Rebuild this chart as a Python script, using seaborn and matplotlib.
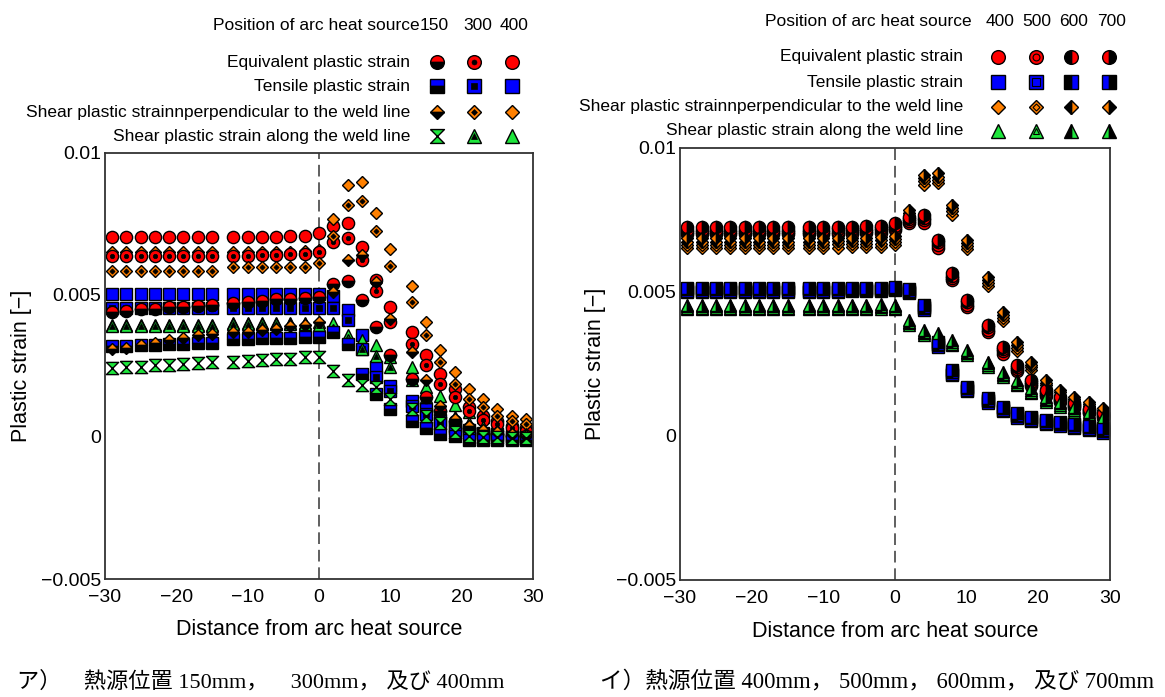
import numpy as np
import pandas as pd
import matplotlib
matplotlib.use("Agg")
import matplotlib.pyplot as plt
from matplotlib.lines import Line2D
from matplotlib.ticker import MultipleLocator
import seaborn as sns

# ---------------------------
# data (plastic strain, unit 1e-3)
# ---------------------------
x_dist = [-29, -27, -25, -23, -21, -19, -17, -15, -12, -10, -8, -6, -4, -2, 0,
          2, 4, 6, 8, 10, 13, 15, 17, 19, 21, 23, 25, 27, 29]

# left panel : heat source at 150 / 300 / 400 mm
eq_150 = [4.41, 4.44, 4.50, 4.52, 4.56, 4.58, 4.60, 4.65, 4.71, 4.75, 4.79, 4.85, 4.87, 4.89, 4.92,
          5.38, 5.48, 4.82, 3.88, 2.87, 2.05, 1.40, 0.90, 0.55, 0.30, 0.15, 0.10, 0.05, 0.03]
eq_300 = [6.38, 6.38, 6.38, 6.38, 6.38, 6.38, 6.38, 6.38, 6.38, 6.39, 6.40, 6.41, 6.43, 6.45, 6.51,
          6.86, 6.99, 6.24, 5.14, 4.05, 3.29, 2.52, 1.87, 1.40, 0.90, 0.60, 0.45, 0.30, 0.20]
eq_400 = [7.03, 7.03, 7.03, 7.03, 7.03, 7.03, 7.03, 7.03, 7.03, 7.03, 7.04, 7.05, 7.06, 7.08, 7.19,
          7.43, 7.53, 6.69, 5.53, 4.59, 3.70, 2.87, 2.22, 1.69, 1.04, 0.75, 0.55, 0.40, 0.30]
ten_150 = [3.19, 3.21, 3.23, 3.25, 3.27, 3.29, 3.30, 3.32, 3.44, 3.46, 3.47, 3.48, 3.50, 3.51, 3.52,
           3.70, 3.29, 2.22, 1.51, 0.98, 0.57, 0.33, 0.10, 0.04, -0.10, -0.12, -0.12, -0.10, -0.10]
ten_300 = [4.53, 4.53, 4.53, 4.53, 4.53, 4.53, 4.53, 4.53, 4.53, 4.53, 4.53, 4.53, 4.54, 4.54, 4.55,
           4.55, 4.11, 3.11, 2.12, 1.63, 1.10, 0.80, 0.50, 0.30, 0.15, 0.10, 0.05, 0.00, 0.00]
ten_400 = [5.02, 5.02, 5.02, 5.02, 5.02, 5.02, 5.02, 5.02, 5.02, 5.02, 5.02, 5.02, 5.02, 5.03, 5.05,
           4.95, 4.47, 3.60, 2.45, 1.80, 1.28, 0.98, 0.60, 0.40, 0.25, 0.15, 0.10, 0.05, 0.00]
perp_150 = [3.11, 3.15, 3.25, 3.30, 3.43, 3.50, 3.58, 3.63, 3.70, 3.68, 3.78, 3.82, 3.92, 3.94, 4.06,
            5.12, 6.24, 6.40, 5.45, 4.15, 2.99, 1.99, 1.10, 0.63, 0.40, 0.25, 0.18, 0.12, 0.05]
perp_300 = [5.85, 5.85, 5.85, 5.85, 5.85, 5.85, 5.85, 5.85, 5.97, 5.97, 5.98, 5.98, 5.99, 6.00, 6.12,
            7.07, 8.17, 8.31, 7.27, 6.02, 4.74, 3.58, 2.64, 1.87, 1.34, 1.04, 0.74, 0.57, 0.45]
perp_400 = [6.50, 6.50, 6.50, 6.50, 6.50, 6.50, 6.50, 6.50, 6.52, 6.52, 6.52, 6.53, 6.53, 6.54, 6.60,
            7.66, 8.87, 8.97, 7.89, 6.62, 5.30, 4.06, 3.05, 2.30, 1.69, 1.34, 0.98, 0.74, 0.63]
along_150 = [2.42, 2.45, 2.48, 2.52, 2.55, 2.58, 2.61, 2.64, 2.64, 2.67, 2.70, 2.73, 2.76, 2.80, 2.82,
             2.34, 1.99, 1.83, 1.76, 1.34, 0.98, 0.74, 0.50, 0.17, 0.05, 0.00, 0.00, -0.05, -0.05]
along_300 = [3.90, 3.90, 3.90, 3.90, 3.90, 3.90, 3.90, 3.90, 3.97, 3.97, 3.97, 3.97, 3.97, 3.97, 3.95,
             3.75, 3.40, 3.11, 2.85, 2.46, 2.00, 1.40, 1.00, 0.70, 0.50, 0.35, 0.25, 0.15, 0.10]
along_400 = [3.96, 3.96, 3.96, 3.96, 3.96, 3.96, 3.96, 3.96, 4.03, 4.03, 4.03, 4.03, 4.03, 4.03, 4.06,
             4.00, 3.58, 3.40, 3.23, 2.80, 2.46, 1.75, 1.45, 1.12, 0.88, 0.70, 0.50, 0.35, 0.25]

# right panel : heat source at 400 / 500 / 600 / 700 mm
eq_r400 = [7.01, 7.01, 7.01, 7.01, 7.01, 7.01, 7.01, 7.01, 7.01, 7.01, 7.02, 7.03, 7.04, 7.06, 7.14,
           7.38, 7.40, 6.54, 5.41, 4.48, 3.61, 2.86, 2.26, 1.73, 1.39, 1.18, 0.97, 0.79, 0.64]
eq_r500 = [7.09, 7.09, 7.09, 7.09, 7.09, 7.09, 7.09, 7.09, 7.09, 7.09, 7.10, 7.11, 7.12, 7.14, 7.22,
           7.46, 7.49, 6.63, 5.49, 4.56, 3.69, 2.94, 2.33, 1.80, 1.46, 1.24, 1.03, 0.84, 0.69]
eq_r600 = [7.17, 7.17, 7.17, 7.17, 7.17, 7.17, 7.17, 7.17, 7.17, 7.17, 7.18, 7.19, 7.20, 7.22, 7.30,
           7.54, 7.58, 6.72, 5.57, 4.64, 3.77, 3.02, 2.40, 1.87, 1.53, 1.30, 1.09, 0.89, 0.74]
eq_r700 = [7.25, 7.25, 7.25, 7.25, 7.25, 7.25, 7.25, 7.25, 7.25, 7.25, 7.26, 7.27, 7.28, 7.30, 7.38,
           7.62, 7.67, 6.81, 5.65, 4.72, 3.85, 3.10, 2.47, 1.94, 1.60, 1.36, 1.15, 0.95, 0.80]
ten_r400 = [5.01, 5.01, 5.01, 5.01, 5.01, 5.01, 5.01, 5.01, 5.01, 5.01, 5.01, 5.02, 5.02, 5.03, 5.06,
            4.95, 4.37, 3.09, 2.11, 1.56, 1.16, 0.87, 0.64, 0.52, 0.41, 0.35, 0.27, 0.20, 0.12]
ten_r500 = [5.05, 5.05, 5.05, 5.05, 5.05, 5.05, 5.05, 5.05, 5.05, 5.05, 5.05, 5.06, 5.06, 5.07, 5.10,
            5.00, 4.43, 3.15, 2.17, 1.61, 1.21, 0.92, 0.69, 0.57, 0.46, 0.40, 0.32, 0.25, 0.17]
ten_r600 = [5.09, 5.09, 5.09, 5.09, 5.09, 5.09, 5.09, 5.09, 5.09, 5.09, 5.09, 5.10, 5.10, 5.11, 5.14,
            5.05, 4.49, 3.21, 2.23, 1.66, 1.26, 0.97, 0.74, 0.62, 0.51, 0.45, 0.37, 0.30, 0.22]
ten_r700 = [5.13, 5.13, 5.13, 5.13, 5.13, 5.13, 5.13, 5.13, 5.13, 5.13, 5.13, 5.14, 5.14, 5.15, 5.18,
            5.10, 4.55, 3.27, 2.29, 1.71, 1.31, 1.02, 0.79, 0.67, 0.56, 0.50, 0.42, 0.35, 0.27]
perp_r400 = [6.53, 6.53, 6.53, 6.53, 6.53, 6.53, 6.53, 6.53, 6.53, 6.53, 6.54, 6.55, 6.56, 6.57, 6.62,
             7.52, 8.73, 8.79, 7.69, 6.48, 5.20, 3.99, 2.94, 2.28, 1.67, 1.36, 1.12, 0.95, 0.75]
perp_r500 = [6.64, 6.64, 6.64, 6.64, 6.64, 6.64, 6.64, 6.64, 6.64, 6.64, 6.65, 6.66, 6.67, 6.68, 6.73,
             7.63, 8.84, 8.90, 7.80, 6.59, 5.31, 4.10, 3.05, 2.38, 1.76, 1.44, 1.20, 1.03, 0.82]
perp_r600 = [6.75, 6.75, 6.75, 6.75, 6.75, 6.75, 6.75, 6.75, 6.75, 6.75, 6.76, 6.77, 6.78, 6.79, 6.84,
             7.74, 8.95, 9.01, 7.91, 6.70, 5.42, 4.21, 3.16, 2.48, 1.85, 1.52, 1.28, 1.11, 0.89]
perp_r700 = [6.86, 6.86, 6.86, 6.86, 6.86, 6.86, 6.86, 6.86, 6.86, 6.86, 6.87, 6.88, 6.89, 6.90, 6.95,
             7.85, 9.06, 9.12, 8.02, 6.81, 5.53, 4.32, 3.27, 2.58, 1.94, 1.60, 1.36, 1.19, 0.96]
along_r400 = [4.40, 4.40, 4.40, 4.40, 4.40, 4.40, 4.40, 4.40, 4.40, 4.40, 4.40, 4.41, 4.41, 4.42, 4.40,
              3.85, 3.50, 3.39, 3.15, 2.81, 2.40, 2.05, 1.76, 1.48, 1.18, 1.01, 0.84, 0.66, 0.49]
along_r500 = [4.45, 4.45, 4.45, 4.45, 4.45, 4.45, 4.45, 4.45, 4.45, 4.45, 4.45, 4.46, 4.46, 4.47, 4.45,
              3.91, 3.56, 3.45, 3.21, 2.87, 2.46, 2.11, 1.82, 1.54, 1.24, 1.07, 0.90, 0.72, 0.55]
along_r600 = [4.50, 4.50, 4.50, 4.50, 4.50, 4.50, 4.50, 4.50, 4.50, 4.50, 4.50, 4.51, 4.51, 4.52, 4.50,
              3.97, 3.62, 3.51, 3.27, 2.93, 2.52, 2.17, 1.88, 1.60, 1.30, 1.13, 0.96, 0.78, 0.61]
along_r700 = [4.55, 4.55, 4.55, 4.55, 4.55, 4.55, 4.55, 4.55, 4.55, 4.55, 4.55, 4.56, 4.56, 4.57, 4.55,
              4.03, 3.68, 3.57, 3.33, 2.99, 2.58, 2.23, 1.94, 1.66, 1.36, 1.19, 1.02, 0.84, 0.67]

series_names = ["Equivalent plastic strain", "Tensile plastic strain",
                "Shear plastic strainnperpendicular to the weld line",
                "Shear plastic strain along the weld line"]
pos_left = ["150", "300", "400"]
pos_right = ["400", "500", "600", "700"]

# ---------------------------
# marker styles
# ---------------------------
RED, BLUE, ORANGE, GREEN = "#ff0000", "#0000ff", "#ff8000", "#1ee63c"
HOURGLASS = [(-1, 1), (1, 1), (-1, -1), (1, -1), (-1, 1)]
series_look = [("o", RED, 8.8), ("s", BLUE, 9.0), ("D", ORANGE, 6.3), ("^", GREEN, 8.8)]
inner_ratio = {"o": 0.36, "s": 0.45, "D": 0.42, "^": 0.42}


def draw(ax, y, shape, color, size, style):
    df = pd.DataFrame({"x": x_dist, "y": np.array(y) * 1e-3})
    kw = dict(marker=shape, color=color, markersize=size, markeredgecolor="black",
              markeredgewidth=1.0, linestyle="none", estimator=None, errorbar=None, sort=False)
    if style in ("top", "left", "right"):
        sns.lineplot(data=df, x="x", y="y", ax=ax, fillstyle=style,
                     markerfacecoloralt="black", **kw)
        return
    sns.lineplot(data=df, x="x", y="y", ax=ax, **kw)
    if style == "dot":
        kw.update(color="black", markersize=size * inner_ratio[shape], markeredgewidth=0.5)
        sns.lineplot(data=df, x="x", y="y", ax=ax, **kw)
    elif style == "ring":
        kw.update(markersize=size * 0.5, markeredgewidth=0.8)
        sns.lineplot(data=df, x="x", y="y", ax=ax, **kw)


def legend_mark(fig, px, py, shape, color, size, style):
    fx, fy = px / 1165, 1 - py / 697
    base = dict(transform=fig.transFigure, marker=shape, color=color, markersize=size,
                markeredgecolor="black", markeredgewidth=1.0, linestyle="none")
    if style in ("top", "left", "right"):
        fig.add_artist(Line2D([fx], [fy], fillstyle=style, markerfacecoloralt="black", **base))
        return
    fig.add_artist(Line2D([fx], [fy], **base))
    if style == "dot":
        base.update(color="black", markersize=size * inner_ratio[shape], markeredgewidth=0.5)
        fig.add_artist(Line2D([fx], [fy], **base))
    elif style == "ring":
        base.update(markersize=size * 0.5, markeredgewidth=0.8)
        fig.add_artist(Line2D([fx], [fy], **base))


sns.set_style("white")
plt.rcParams["font.family"] = ["Liberation Sans", "Noto Sans CJK JP"]
plt.rcParams["text.color"] = "black"
plt.rcParams["axes.labelcolor"] = "black"
plt.rcParams["xtick.color"] = "black"
plt.rcParams["ytick.color"] = "black"

fig = plt.figure(figsize=(11.65, 6.97), dpi=100)
axL = fig.add_axes([105 / 1165, 1 - 579 / 697, 428 / 1165, 426 / 697])
axR = fig.add_axes([680 / 1165, 1 - 580 / 697, 430 / 1165, 432 / 697])

for ax in (axL, axR):
    ax.axvline(0, color="#444444", lw=1.2, ls=(0, (7, 3.5)), zorder=1)

# left panel: drawn 400, 300, 150
left_sets = {
    "400": ([eq_400, ten_400, perp_400, along_400], "plain"),
    "300": ([eq_300, ten_300, perp_300, along_300], "dot"),
    "150": ([eq_150, ten_150, perp_150, along_150], "top"),
}
for pos in ["400", "300", "150"]:
    vals, style = left_sets[pos]
    for k, y in enumerate(vals):
        shape, color, size = series_look[k]
        if pos == "150" and k == 3:
            draw(axL, y, HOURGLASS, color, 8.8, "plain")
        else:
            draw(axL, y, shape, color, size, style)

right_sets = {
    "400": ([eq_r400, ten_r400, perp_r400, along_r400], "plain"),
    "500": ([eq_r500, ten_r500, perp_r500, along_r500], "ring"),
    "600": ([eq_r600, ten_r600, perp_r600, along_r600], "right"),
    "700": ([eq_r700, ten_r700, perp_r700, along_r700], "left"),
}
for pos in pos_right:
    vals, style = right_sets[pos]
    for k, y in enumerate(vals):
        shape, color, size = series_look[k]
        draw(axR, y, shape, color, size, style)

# axes cosmetics
for ax, lab_x in ((axL, -0.171), (axR, -0.173)):
    ax.set_xlim(-30, 30)
    ax.set_ylim(-0.005, 0.01)
    ax.set_xticks([-30, -20, -10, 0, 10, 20, 30])
    ax.set_xticklabels(["\u221230", "\u221220", "\u221210", "0", "10", "20", "30"])
    ax.set_yticks([-0.005, 0, 0.005, 0.01])
    ax.set_yticklabels(["\u22120.005", "0", "0.005", "0.01"])
    ax.yaxis.set_minor_locator(MultipleLocator(0.0025))
    ax.tick_params(axis="x", which="major", direction="in", length=4.5, width=1,
                   labelsize=14, pad=7, color="#333333")
    ax.tick_params(axis="y", which="major", direction="in", length=6.5, width=1,
                   labelsize=14, pad=3, color="#333333")
    ax.tick_params(axis="y", which="minor", direction="in", length=2.5, width=1,
                   color="#333333")
    for sp in ax.spines.values():
        sp.set_color("#333333")
        sp.set_linewidth(1.3)
    ax.set_xlabel("Distance from arc heat source", fontsize=15.5)
    ax.set_ylabel("Plastic strain [\u2212]", fontsize=15.5)
    ax.xaxis.set_label_coords(0.5, -0.095)
    ax.yaxis.set_label_coords(lab_x, 0.5)

# legend block, left
fig.text(420 / 1165, 1 - 25 / 697, "Position of arc heat source", ha="right", va="center", fontsize=12.5)
for px, t in zip([434, 478, 514], pos_left):
    fig.text(px / 1165, 1 - 25 / 697, t, ha="center", va="center", fontsize=12.5)
left_styles = ["top", "dot", "plain"]
for k, (name, py) in enumerate(zip(series_names, [62, 86, 112, 136])):
    fig.text(410 / 1165, 1 - py / 697, name, ha="right", va="center", fontsize=12.5)
    shape, color, size = series_look[k]
    for px, st in zip([437, 474, 512], left_styles):
        if k == 3 and st == "top":
            legend_mark(fig, px, py, HOURGLASS, color, 10, "plain")
        else:
            legend_mark(fig, px, py, shape, color, size * 1.12, st)

# legend block, right
fig.text(972 / 1165, 1 - 21 / 697, "Position of arc heat source", ha="right", va="center", fontsize=12.5)
for px, t in zip([1000, 1037, 1074, 1112], pos_right):
    fig.text(px / 1165, 1 - 21 / 697, t, ha="center", va="center", fontsize=12.5)
right_styles = ["plain", "ring", "right", "left"]
for k, (name, py) in enumerate(zip(series_names, [57, 82, 107, 131])):
    fig.text(963 / 1165, 1 - py / 697, name, ha="right", va="center", fontsize=12.5)
    shape, color, size = series_look[k]
    for px, st in zip([998, 1036, 1071, 1109], right_styles):
        legend_mark(fig, px, py, shape, color, size * 1.12, st)

# captions
cap_font = ["Liberation Serif", "Noto Sans CJK JP"]
fig.text(17 / 1165, 1 - 682 / 697, "ア）\u3000熱源位置 150mm，\u3000300mm， 及び 400mm",
         ha="left", va="center", fontsize=16, family=cap_font)
fig.text(600 / 1165, 1 - 682 / 697, "イ）熱源位置 400mm， 500mm， 600mm， 及び 700mm",
         ha="left", va="center", fontsize=16.3, family=cap_font)

fig.savefig("out.png", dpi=100)
